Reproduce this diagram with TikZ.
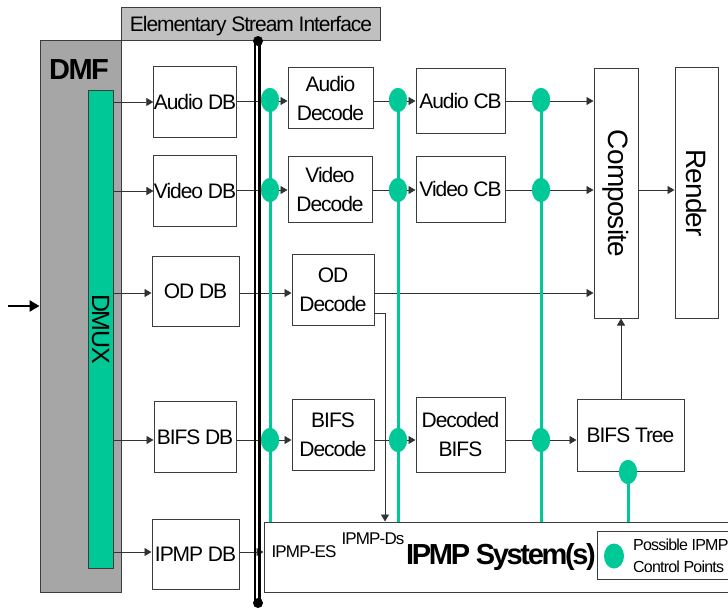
\documentclass[tikz,border=0pt]{standalone}
\usepackage{fontspec}
\setmainfont[LetterSpace=-5]{Liberation Sans}
\newfontfamily\titlefont[LetterSpace=-8]{Liberation Sans}
\newfontfamily\vertfont[LetterSpace=-3]{Liberation Sans}
\usetikzlibrary{arrows.meta,shapes.geometric}
\definecolor{gr}{RGB}{0,201,151}
\definecolor{dmfgray}{RGB}{166,166,166}
\definecolor{hdrgray}{RGB}{192,192,192}
\definecolor{boxc}{RGB}{60,60,60}
\definecolor{linec}{RGB}{50,50,50}
\newcommand\lbl{\fontsize{21}{29}\selectfont}
\newcommand\sml{\fontsize{16}{22}\selectfont}
\tikzset{
  box/.style={draw=boxc, line width=1pt, fill=white, inner sep=0pt, align=center, font=\lbl},
  conn/.style={draw=linec, line width=0.8pt, -{Triangle[length=7pt,width=8pt]}},
  gline/.style={draw=gr, line width=3pt},
  gdot/.style={ellipse, fill=gr, minimum width=18pt, minimum height=24pt, inner sep=0pt},
  esidot/.style={circle, fill=black, minimum size=10pt, inner sep=0pt},
}
\begin{document}
\begin{tikzpicture}[x=1pt,y=-1pt]
\useasboundingbox (0,0) rectangle (728,610);
\clip (0,0) rectangle (728,610);
% DMF block and header
\node[draw=boxc, line width=1pt, fill=dmfgray, minimum width=81pt, minimum height=551pt, inner sep=0pt] (dmf) at (80.5,316.5) {};
\node[font=\fontsize{29}{29}\bfseries] (dmflbl) at (79,70) {DMF};
\node[draw=boxc, line width=1pt, fill=gr, minimum width=25pt, minimum height=478pt, inner sep=0pt] (dmux) at (100.5,329) {\fontsize{25}{25}\selectfont\rotatebox{-90}{DMUX}};
\node[draw=boxc, line width=1pt, fill=hdrgray, minimum width=259pt, minimum height=33pt, inner sep=0pt] (esi) at (250.5,24.5) {};
\node[font=\lbl] (esilbl) at (251,26) {Elementary Stream Interface};
\coordinate (inp) at (8,306);
\draw[line width=2.5pt, -{Triangle[length=10pt,width=11pt]}] (inp) -- (inp -| dmf.west);
% boxes
\node[box, minimum width=82pt, minimum height=70pt] (audiodb) at (195,102) {Audio DB};
\node[box, minimum width=82pt, minimum height=71pt] (videodb) at (195,191) {Video DB};
\node[box, minimum width=87pt, minimum height=70pt] (oddb) at (195.5,291) {OD DB};
\node[box, minimum width=82pt, minimum height=71pt] (bifsdb) at (195,437) {BIFS DB};
\node[box, minimum width=87pt, minimum height=70pt] (ipmpdb) at (195.5,554) {IPMP DB};
\node[box, minimum width=85pt, minimum height=60pt] (audiodec) at (330.5,98) {Audio\\Decode};
\node[box, minimum width=84pt, minimum height=66pt] (videodec) at (330,189) {Video\\Decode};
\node[box, minimum width=82pt, minimum height=71pt] (oddec) at (333,289.5) {OD\\Decode};
\node[box, minimum width=82pt, minimum height=71pt] (bifsdec) at (333,434.5) {BIFS\\Decode};
\node[box, minimum width=89pt, minimum height=64pt] (audiocb) at (460.5,101) {Audio CB};
\node[box, minimum width=89pt, minimum height=66pt] (videocb) at (460.5,189) {Video CB};
\node[box, minimum width=89pt, minimum height=75pt] (decbifs) at (460.5,434.5) {Decoded\\BIFS};
\node[box, minimum width=44pt, minimum height=249pt] (composite) at (616,193.5) {\vertfont\fontsize{28}{28}\selectfont\rotatebox{-90}{Composite}};
\node[box, minimum width=43pt, minimum height=250pt] (render) at (696.5,193) {\vertfont\fontsize{28}{28}\selectfont\rotatebox{-90}{Render}};
\node[box, minimum width=107pt, minimum height=72pt] (bifstree) at (630.5,435) {BIFS Tree};
\node[box, minimum width=476pt, minimum height=70pt] (ipmpsys) at (502,557) {};
\node[draw=boxc, line width=1pt, fill=white, minimum width=143pt, minimum height=48pt, inner sep=0pt] (legend) at (668.5,555) {};
% connectors
\coordinate (ya) at (0,101);
\coordinate (yv) at (0,190);
\coordinate (yo) at (0,293);
\coordinate (yb) at (0,440);
\coordinate (yi) at (0,552);
\draw[conn] (dmux.east |- audiodb.west) -- (audiodb.west);
\draw[conn] (dmux.east |- videodb.west) -- (videodb.west);
\draw[conn] (dmux.east |- yo) -- (oddb.west |- yo);
\draw[conn] (dmux.east |- yb) -- (bifsdb.west |- yb);
\draw[conn] (dmux.east |- yi) -- (ipmpdb.west |- yi);
\draw[conn] (audiodb.east |- ya) -- (audiodec.west |- ya);
\draw[conn] (audiodec.east |- ya) -- (audiocb.west |- ya);
\draw[conn] (audiocb.east |- ya) -- (composite.west |- ya);
\draw[conn] (videodb.east |- yv) -- (videodec.west |- yv);
\draw[conn] (videodec.east |- yv) -- (videocb.west |- yv);
\draw[conn] (videocb.east |- yv) -- (composite.west |- yv);
\draw[conn] (composite.east |- yv) -- (render.west |- yv);
\draw[conn] (oddb.east |- yo) -- (oddec.west |- yo);
\draw[conn] (oddec.east |- yo) -- (composite.west |- yo);
\coordinate (odout) at (375,313);
\coordinate (odturn) at (385,313);
\draw[conn] (odout) -- (odturn) -- (odturn |- ipmpsys.north);
\draw[conn] (bifsdb.east |- yb) -- (bifsdec.west |- yb);
\draw[conn] (bifsdec.east |- yb) -- (decbifs.west |- yb);
\draw[conn] (decbifs.east |- yb) -- (bifstree.west |- yb);
\coordinate (treeup) at (621,0);
\draw[conn] (treeup |- bifstree.north) -- (treeup |- composite.south);
\draw[conn] (ipmpdb.east |- yi) -- (ipmpsys.west |- yi);
% elementary stream interface line
\node[esidot] (esitop) at (258,41) {};
\node[esidot] (esibot) at (258,603) {};
\draw[line width=1.3pt] ([xshift=-3pt]esitop.center) -- ([xshift=-3pt]esibot.center);
\draw[line width=3.5pt] ([xshift=1.5pt]esitop.center) -- ([xshift=1.5pt]esibot.center);
% control points
\foreach \n/\x/\y in {a1/270/100, v1/270/190, b1/270/440, a2/398/100, v2/398/190, b2/398/440, a3/541/100, v3/541/190, b3/541/440}
  \node[gdot] (\n) at (\x,\y) {};
\draw[gline] (a1.center) -- (a1.center |- ipmpsys.north);
\draw[gline] (a2.center) -- (a2.center |- ipmpsys.north);
\draw[gline] (a3.center) -- (a3.center |- ipmpsys.north);
\node[gdot] (t1) at (628,472) {};
\draw[gline] (t1.center) -- (t1.center |- ipmpsys.north);
\foreach \n in {a1,v1,b1,a2,v2,b2,a3,v3,b3,t1} \node[gdot] at (\n) {};
% IPMP system texts
\node[font=\fontsize{17}{17}\selectfont] (ipmpes) at (304,552) {IPMP-ES};
\node[font=\fontsize{17}{17}\selectfont] (ipmpds) at (373,539) {IPMP-Ds};
\node[font=\titlefont\fontsize{29}{29}\bfseries] (ipmptitle) at (501,557) {IPMP System(s)};
\node[gdot, minimum width=20pt, minimum height=25pt] (legdot) at (614,556) {};
\node[font=\sml, align=left, anchor=west, inner sep=0pt] (legtxt) at (633,556) {Possible IPMP\\Control Points};
\end{tikzpicture}
\end{document}
